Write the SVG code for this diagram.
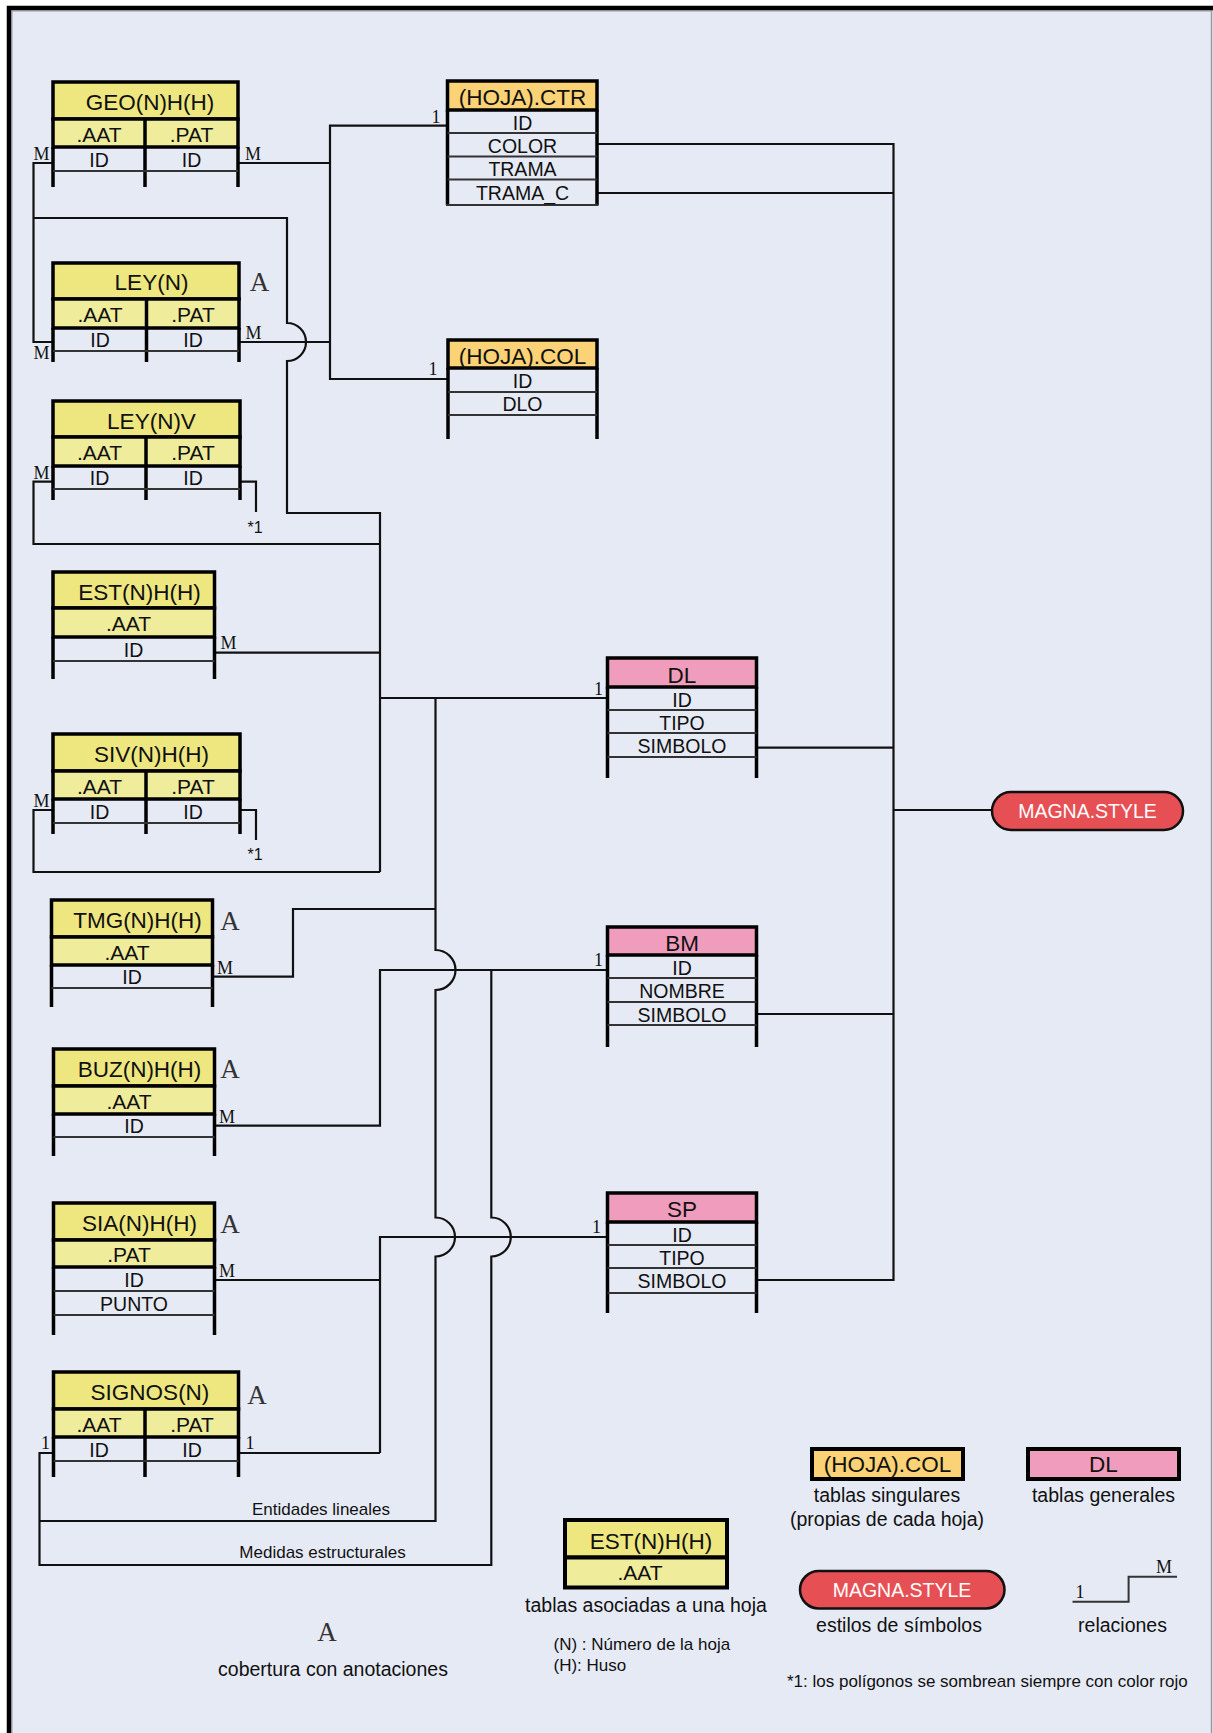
<svg xmlns="http://www.w3.org/2000/svg" width="1213" height="1733" viewBox="0 0 1213 1733">
<defs>
<style>
.ty{fill:#EEE780;stroke:#000;stroke-width:3.5}
.sy{fill:#EFEC9C;stroke:#000;stroke-width:3.5}
.to{fill:#FBD275;stroke:#000;stroke-width:3.5}
.tp{fill:#F09CBC;stroke:#000;stroke-width:3.5}
.lo{fill:#FBD275;stroke:#000;stroke-width:4}
.lp{fill:#F09CBC;stroke:#000;stroke-width:4}
.th{stroke:#000;stroke-width:3.5;fill:none}
.rw{stroke:#333;stroke-width:1.8}
.ln{stroke:#111;stroke-width:2.2;fill:none}
text{font-family:"Liberation Sans",Arial,sans-serif;fill:#111}
.t{font-size:22.5px;text-anchor:middle}
.s{font-size:21px;text-anchor:middle}
.f{font-size:19.5px;text-anchor:middle}
.r{font-family:"Liberation Serif","Times New Roman",serif;font-size:18px}
.a{font-family:"Liberation Serif","Times New Roman",serif;font-size:27px;text-anchor:middle;fill:#333}
.lg{font-size:19.5px;text-anchor:middle}
.sm{font-size:17px}
.smc{font-size:17px;text-anchor:middle}
.st{font-size:16px}
.pill{fill:#E65055;stroke:#111;stroke-width:2.5}
.pt{font-size:19.5px;text-anchor:middle;fill:#fff}
</style>
</defs>

<rect width="1213" height="1733" fill="#fff"/>
<rect x="9" y="8" width="1204" height="1725" fill="#E6EAF5"/>
<line x1="1211.5" y1="10" x2="1211.5" y2="1733" stroke="#9a9a9a" stroke-width="1.5"/>
<line x1="12" y1="11" x2="1211" y2="11" stroke="#9a9a9a" stroke-width="1"/>
<line x1="12" y1="11" x2="12" y2="1733" stroke="#9a9a9a" stroke-width="1"/>
<path d="M9,1733 V8 H1213" fill="none" stroke="#000" stroke-width="4.5"/>

<g id="connectors">
<path class="ln" d="M238,163 H330"/>
<path class="ln" d="M447.5,125.7 H330 V379 H448"/>
<path class="ln" d="M239,342 H330"/>
<path class="ln" d="M53,163 H33.5 V342 H53"/>
<path class="ln" d="M33.5,218 H287 V323 A19,19 0 0 1 287,361 V513 H380 V872"/>
<path class="ln" d="M53,481.7 H33.5 V544 H380"/>
<path class="ln" d="M53,810 H33.5 V872 H380"/>
<path class="ln" d="M214.5,652.7 H380"/>
<path class="ln" d="M380,698 H607.5"/>
<path class="ln" d="M240,481.7 H256 V512"/>
<path class="ln" d="M240,810 H256 V840"/>
<path class="ln" d="M435.5,698 V950 A20,20 0 0 1 435.5,990 V1217.5 A19.5,19.5 0 0 1 435.5,1256.5 V1521 H39.5"/>
<path class="ln" d="M212.5,976.7 H293 V909 H435.5"/>
<path class="ln" d="M214.5,1125.7 H380 V970 H607.5"/>
<path class="ln" d="M491.3,970 V1217.5 A19.5,19.5 0 0 1 491.3,1256.5 V1565 H39.5 V1453 H53.5"/>
<path class="ln" d="M214.5,1280 H380"/>
<path class="ln" d="M380,1453 V1237 H607.5"/>
<path class="ln" d="M238.5,1453 H380"/>
<path class="ln" d="M597,144 H893.5 V1280 H756.5"/>
<path class="ln" d="M597,193 H893.5"/>
<path class="ln" d="M756.5,747.7 H893.5"/>
<path class="ln" d="M893.5,810 H992"/>
<path class="ln" d="M756.5,1014 H893.5"/>
<text class="r" x="33.5" y="160">M</text>
<text class="r" x="245" y="160">M</text>
<text class="r" x="245.5" y="339">M</text>
<text class="r" x="33.5" y="359">M</text>
<text class="r" x="33.5" y="479">M</text>
<text class="r" x="220.5" y="649">M</text>
<text class="r" x="33.5" y="806.5">M</text>
<text class="r" x="217" y="974">M</text>
<text class="r" x="219" y="1123">M</text>
<text class="r" x="219" y="1277">M</text>
<text class="r" x="245.5" y="1449">1</text>
<text class="r" x="41" y="1449">1</text>
<text class="r" x="431.5" y="123">1</text>
<text class="r" x="428.5" y="375">1</text>
<text class="r" x="594" y="695">1</text>
<text class="r" x="594" y="966">1</text>
<text class="r" x="592" y="1233">1</text>
<text class="st" x="247.5" y="533">*1</text>
<text class="st" x="247.5" y="860">*1</text>
<text class="smc" x="321" y="1515">Entidades lineales</text>
<text class="smc" x="322.5" y="1558">Medidas estructurales</text>
</g>

<g id="geo">
<rect class="ty" x="53" y="82" width="185" height="37"/>
<rect class="sy" x="53" y="119" width="185" height="28"/>
<line class="th" x1="145" y1="119" x2="145" y2="187"/>
<line class="th" x1="53" y1="147" x2="53" y2="187"/>
<line class="th" x1="238" y1="147" x2="238" y2="187"/>
<line class="rw" x1="53" y1="171" x2="238" y2="171"/>
<text class="t" x="150" y="109.5">GEO(N)H(H)</text>
<text class="s" x="99" y="142">.AAT</text>
<text class="s" x="191.5" y="142">.PAT</text>
<text class="f" x="99" y="166.5">ID</text>
<text class="f" x="191.5" y="166.5">ID</text>
</g>

<g id="ley">
<rect class="ty" x="53" y="263" width="186" height="36"/>
<rect class="sy" x="53" y="299" width="186" height="29"/>
<line class="th" x1="146.5" y1="299" x2="146.5" y2="362"/>
<line class="th" x1="53" y1="328" x2="53" y2="362"/>
<line class="th" x1="239" y1="328" x2="239" y2="362"/>
<line class="rw" x1="53" y1="351" x2="239" y2="351"/>
<text class="t" x="151.5" y="290">LEY(N)</text>
<text class="s" x="100" y="322">.AAT</text>
<text class="s" x="193" y="322">.PAT</text>
<text class="f" x="100" y="346.5">ID</text>
<text class="f" x="193" y="346.5">ID</text>
<text class="a" x="259.5" y="291">A</text>
</g>

<g id="leyv">
<rect class="ty" x="53" y="401" width="187" height="36"/>
<rect class="sy" x="53" y="437" width="187" height="29"/>
<line class="th" x1="146" y1="437" x2="146" y2="500"/>
<line class="th" x1="53" y1="466" x2="53" y2="500"/>
<line class="th" x1="240" y1="466" x2="240" y2="500"/>
<line class="rw" x1="53" y1="489" x2="240" y2="489"/>
<text class="t" x="151.5" y="428.5">LEY(N)V</text>
<text class="s" x="99.5" y="460">.AAT</text>
<text class="s" x="193" y="460">.PAT</text>
<text class="f" x="99.5" y="485">ID</text>
<text class="f" x="193" y="485">ID</text>
</g>

<g id="est">
<rect class="ty" x="53" y="572" width="161.5" height="36"/>
<rect class="sy" x="53" y="608" width="161.5" height="29"/>
<line class="th" x1="53" y1="637" x2="53" y2="679"/>
<line class="th" x1="214.5" y1="637" x2="214.5" y2="679"/>
<line class="rw" x1="53" y1="661" x2="214.5" y2="661"/>
<text class="t" x="139.5" y="599.5">EST(N)H(H)</text>
<text class="s" x="128.5" y="631">.AAT</text>
<text class="f" x="133.5" y="656.5">ID</text>
</g>

<g id="siv">
<rect class="ty" x="53" y="734" width="187" height="37"/>
<rect class="sy" x="53" y="771" width="187" height="28"/>
<line class="th" x1="146" y1="771" x2="146" y2="834"/>
<line class="th" x1="53" y1="799" x2="53" y2="834"/>
<line class="th" x1="240" y1="799" x2="240" y2="834"/>
<line class="rw" x1="53" y1="823" x2="240" y2="823"/>
<text class="t" x="151.5" y="762">SIV(N)H(H)</text>
<text class="s" x="99.5" y="793.5">.AAT</text>
<text class="s" x="193" y="793.5">.PAT</text>
<text class="f" x="99.5" y="818.5">ID</text>
<text class="f" x="193" y="818.5">ID</text>
</g>

<g id="tmg">
<rect class="ty" x="51.5" y="900" width="161" height="37"/>
<rect class="sy" x="51.5" y="937" width="161" height="28"/>
<line class="th" x1="51.5" y1="965" x2="51.5" y2="1007"/>
<line class="th" x1="212.5" y1="965" x2="212.5" y2="1007"/>
<line class="rw" x1="51.5" y1="988" x2="212.5" y2="988"/>
<text class="t" x="137.5" y="928">TMG(N)H(H)</text>
<text class="s" x="127" y="959.5">.AAT</text>
<text class="f" x="132" y="984">ID</text>
<text class="a" x="230" y="930">A</text>
</g>

<g id="buz">
<rect class="ty" x="53.5" y="1049" width="161" height="37"/>
<rect class="sy" x="53.5" y="1086" width="161" height="28"/>
<line class="th" x1="53.5" y1="1114" x2="53.5" y2="1156"/>
<line class="th" x1="214.5" y1="1114" x2="214.5" y2="1156"/>
<line class="rw" x1="53.5" y1="1137" x2="214.5" y2="1137"/>
<text class="t" x="139.5" y="1077">BUZ(N)H(H)</text>
<text class="s" x="129" y="1108.5">.AAT</text>
<text class="f" x="134" y="1133">ID</text>
<text class="a" x="230" y="1078">A</text>
</g>

<g id="sia">
<rect class="ty" x="53.5" y="1203" width="161" height="37"/>
<rect class="sy" x="53.5" y="1240" width="161" height="27"/>
<line class="th" x1="53.5" y1="1267" x2="53.5" y2="1335"/>
<line class="th" x1="214.5" y1="1267" x2="214.5" y2="1335"/>
<line class="rw" x1="53.5" y1="1291" x2="214.5" y2="1291"/>
<line class="rw" x1="53.5" y1="1315" x2="214.5" y2="1315"/>
<text class="t" x="139.5" y="1231">SIA(N)H(H)</text>
<text class="s" x="129" y="1262">.PAT</text>
<text class="f" x="134" y="1286.5">ID</text>
<text class="f" x="134" y="1310.5">PUNTO</text>
<text class="a" x="230" y="1233">A</text>
</g>

<g id="signos">
<rect class="ty" x="53.5" y="1372" width="185" height="37"/>
<rect class="sy" x="53.5" y="1409" width="185" height="28"/>
<line class="th" x1="145" y1="1409" x2="145" y2="1477"/>
<line class="th" x1="53.5" y1="1437" x2="53.5" y2="1477"/>
<line class="th" x1="238.5" y1="1437" x2="238.5" y2="1477"/>
<line class="rw" x1="53.5" y1="1461" x2="238.5" y2="1461"/>
<text class="t" x="150" y="1400">SIGNOS(N)</text>
<text class="s" x="99" y="1431.5">.AAT</text>
<text class="s" x="192" y="1431.5">.PAT</text>
<text class="f" x="99" y="1456.5">ID</text>
<text class="f" x="192" y="1456.5">ID</text>
<text class="a" x="257" y="1404">A</text>
</g>

<g id="hoja-ctr">
<rect class="to" x="447.5" y="81" width="149.5" height="29"/>
<line class="th" x1="447.5" y1="110" x2="447.5" y2="205"/>
<line class="th" x1="597" y1="110" x2="597" y2="205"/>
<line class="rw" x1="447.5" y1="133" x2="597" y2="133"/>
<line class="rw" x1="447.5" y1="156.5" x2="597" y2="156.5"/>
<line class="rw" x1="447.5" y1="179.5" x2="597" y2="179.5"/>
<line class="rw" x1="446" y1="205" x2="598.5" y2="205"/>
<text class="t" x="522.5" y="105">(HOJA).CTR</text>
<text class="f" x="522.5" y="129.5">ID</text>
<text class="f" x="522.5" y="153">COLOR</text>
<text class="f" x="522.5" y="176">TRAMA</text>
<text class="f" x="522.5" y="200">TRAMA_C</text>
</g>

<g id="hoja-col">
<rect class="to" x="448" y="340" width="149" height="28"/>
<line class="th" x1="448" y1="368" x2="448" y2="439"/>
<line class="th" x1="597" y1="368" x2="597" y2="439"/>
<line class="rw" x1="448" y1="392" x2="597" y2="392"/>
<line class="rw" x1="448" y1="415" x2="597" y2="415"/>
<text class="t" x="522.5" y="364">(HOJA).COL</text>
<text class="f" x="522.5" y="388">ID</text>
<text class="f" x="522.5" y="411">DLO</text>
</g>

<g id="dl">
<rect class="tp" x="607.5" y="658" width="149" height="29"/>
<line class="th" x1="607.5" y1="687" x2="607.5" y2="778"/>
<line class="th" x1="756.5" y1="687" x2="756.5" y2="778"/>
<line class="rw" x1="607.5" y1="710" x2="756.5" y2="710"/>
<line class="rw" x1="607.5" y1="733" x2="756.5" y2="733"/>
<line class="rw" x1="607.5" y1="757" x2="756.5" y2="757"/>
<text class="t" x="682" y="682.5">DL</text>
<text class="f" x="682" y="706.5">ID</text>
<text class="f" x="682" y="730">TIPO</text>
<text class="f" x="682" y="753">SIMBOLO</text>
</g>

<g id="bm">
<rect class="tp" x="607.5" y="927" width="149" height="28"/>
<line class="th" x1="607.5" y1="955" x2="607.5" y2="1047"/>
<line class="th" x1="756.5" y1="955" x2="756.5" y2="1047"/>
<line class="rw" x1="607.5" y1="978" x2="756.5" y2="978"/>
<line class="rw" x1="607.5" y1="1002" x2="756.5" y2="1002"/>
<line class="rw" x1="607.5" y1="1025" x2="756.5" y2="1025"/>
<text class="t" x="682" y="951">BM</text>
<text class="f" x="682" y="975">ID</text>
<text class="f" x="682" y="998">NOMBRE</text>
<text class="f" x="682" y="1021.5">SIMBOLO</text>
</g>

<g id="sp">
<rect class="tp" x="607.5" y="1193" width="149" height="29"/>
<line class="th" x1="607.5" y1="1222" x2="607.5" y2="1313"/>
<line class="th" x1="756.5" y1="1222" x2="756.5" y2="1313"/>
<line class="rw" x1="607.5" y1="1245" x2="756.5" y2="1245"/>
<line class="rw" x1="607.5" y1="1268" x2="756.5" y2="1268"/>
<line class="rw" x1="607.5" y1="1293" x2="756.5" y2="1293"/>
<text class="t" x="682" y="1217">SP</text>
<text class="f" x="682" y="1241.5">ID</text>
<text class="f" x="682" y="1265">TIPO</text>
<text class="f" x="682" y="1288">SIMBOLO</text>
</g>

<g id="magna-style">
<rect class="pill" x="992" y="792" width="191" height="38" rx="19" ry="19"/>
<text class="pt" x="1087.5" y="818">MAGNA.STYLE</text>
</g>

<g id="legend">
<rect class="lo" x="812" y="1449" width="151" height="30"/>
<text class="t" x="887.5" y="1472">(HOJA).COL</text>
<text class="lg" x="887" y="1502">tablas singulares</text>
<text class="lg" x="887" y="1526">(propias de cada hoja)</text>
<rect class="lp" x="1028" y="1449" width="151" height="30"/>
<text class="t" x="1103.5" y="1472">DL</text>
<text class="lg" x="1103.5" y="1502">tablas generales</text>
<rect class="ty" x="565" y="1520" width="162" height="37.5" style="stroke-width:4"/>
<rect class="sy" x="565" y="1557.5" width="162" height="30" style="stroke-width:4"/>
<text class="t" x="651" y="1549">EST(N)H(H)</text>
<text class="s" x="640" y="1580">.AAT</text>
<text class="lg" x="646" y="1612">tablas asociadas a una hoja</text>
<text class="sm" x="553.5" y="1650">(N) : Número de la hoja</text>
<text class="sm" x="553.5" y="1671">(H): Huso</text>
<rect class="pill" x="800" y="1571" width="204.5" height="37.5" rx="18.75" ry="18.75"/>
<text class="pt" x="902" y="1596.5">MAGNA.STYLE</text>
<text class="lg" x="899" y="1632">estilos de símbolos</text>
<path d="M1072.5,1601.7 H1128.6 V1576.7 H1177" fill="none" stroke="#333" stroke-width="2"/>
<text class="r" x="1075.5" y="1598">1</text>
<text class="r" x="1156" y="1573">M</text>
<text class="lg" x="1122.5" y="1632">relaciones</text>
<text class="a" x="327" y="1641">A</text>
<text class="lg" x="333" y="1676">cobertura con anotaciones</text>
<text class="sm" x="787" y="1687">*1: los polígonos se sombrean siempre con color rojo</text>
</g>
</svg>
